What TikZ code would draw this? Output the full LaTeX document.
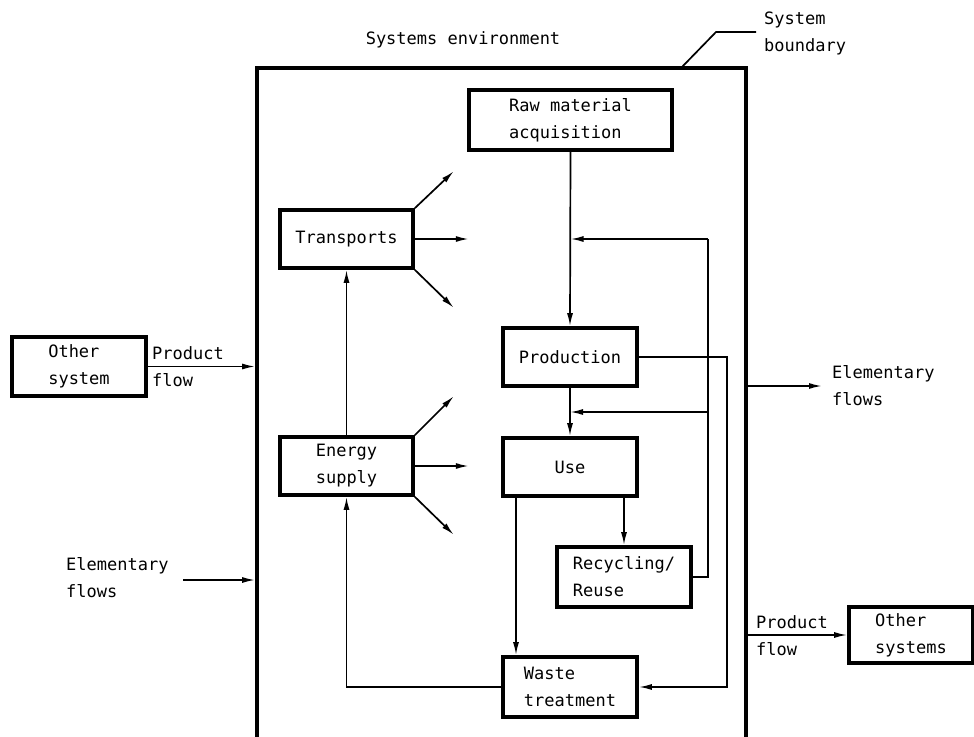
\documentclass[tikz,border=0pt]{standalone}
\usepackage{fontspec}
\setmainfont{DejaVu Sans Mono}
\usetikzlibrary{arrows.meta}
\begin{document}
\begin{tikzpicture}[x=1pt,y=-1pt,
  txt/.style={font=\fontsize{17}{27}\selectfont, align=left, inner sep=0pt},
  procbox/.style={draw, line width=3.6pt, txt, minimum width=#1, minimum height=58pt},
  procbox/.default=134pt,
  flow/.style={line width=1.7pt, -{Latex[length=13pt,width=6pt]}},
  plain/.style={line width=1.7pt},
  bound/.style={draw, line width=3.8pt, inner sep=0pt}
]
\useasboundingbox (0,0) rectangle (974,736);
\fill[white] (0,0) rectangle (974,736);

% system boundary
\node[bound, minimum width=489pt, minimum height=677pt] (bnd) at (501.5,406.5) {};
\node[txt] (env) at (463,40) {Systems environment};
\node[txt, anchor=west] (sbl) at (764,33) {System\\boundary};
\coordinate (ld1) at (681,68);
\coordinate (ld2) at (716,32);
\coordinate (ld3) at (756,32);
\draw[plain] (ld1) -- (ld2) -- (ld3);

% process boxes
\node[procbox=203pt, minimum height=60pt] (raw) at (570.5,120) {Raw material\\acquisition};
\node[procbox] (prod) at (570,357) {Production};
\node[procbox] (use) at (570,467) {Use};
\node[procbox, minimum height=60pt] (rec) at (624,577) {Recycling/\\Reuse};
\node[procbox, minimum height=60pt] (waste) at (570,687) {Waste\\treatment};
\node[procbox=133pt] (trans) at (346.5,239) {Transports};
\node[procbox=133pt] (energy) at (346.5,466) {Energy\\supply};

% outside systems
\node[procbox, minimum height=59pt] (oth1) at (79,366.5) {Other\\system};
\node[procbox=124pt, minimum height=56pt] (oth2) at (911,635) {Other\\systems};

% labels outside
\node[txt, anchor=west] (pf1) at (152,367) {Product\\flow};
\node[txt, anchor=west] (ef1) at (66,578) {Elementary\\flows};
\node[txt, anchor=west] (ef2) at (832,386) {Elementary\\flows};
\node[txt, anchor=west] (pf2) at (756,636) {Product\\flow};

% helper coordinates
\coordinate (fbTop) at (708,239);
\coordinate (fbMid) at (708,412);
\coordinate (pRight) at (727,357);
\coordinate (useL) at (516,496);
\coordinate (ef1s) at (183,580);
\coordinate (ef2e) at (822,386);

% main chain
\draw[flow] (raw.south) -- (prod.north);
\draw[flow] (prod.south) -- (use.north);
\draw[flow] (rec.north |- use.south) -- (rec.north);
\draw[flow] (useL) -- (useL |- waste.north);

% recycling feedback
\draw[plain] (rec.east) -| (fbTop);
\draw[flow] (fbTop) -- (fbTop -| raw.south);
\draw[flow] (fbMid) -- (fbMid -| prod.south);

% production to waste
\draw[flow] (prod.east) -- (pRight) |- (waste.east);

% waste to energy, energy to transports
\draw[flow] (waste.west) -| (energy.south);
\draw[flow] (energy.north) -- (trans.south);

% emissions from transports
\draw[flow] (trans.north east) -- ++(39,-37);
\draw[flow] (trans.east) -- ++(54,0);
\draw[flow] (trans.south east) -- ++(39,38);
% emissions from energy supply
\draw[flow] (energy.north east) -- ++(39,-39);
\draw[flow] (energy.east) -- ++(54,0);
\draw[flow] (energy.south east) -- ++(39,38);

% flows across boundary
\draw[flow] (oth1.east) -- (oth1.east -| bnd.west);
\draw[flow] (ef1s) -- (ef1s -| bnd.west);
\draw[flow] (ef2e -| bnd.east) -- (ef2e);
\draw[flow] (oth2.west -| bnd.east) -- (oth2.west);
\end{tikzpicture}
\end{document}
